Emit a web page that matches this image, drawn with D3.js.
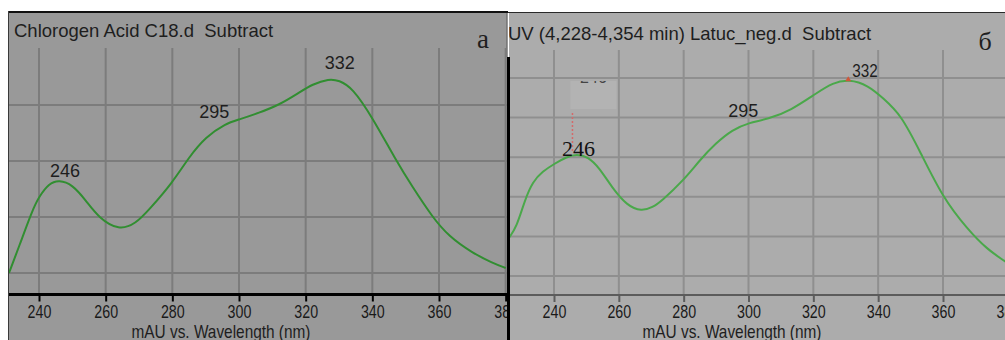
<!DOCTYPE html>
<html>
<head>
<meta charset="utf-8">
<script src="https://cdn.jsdelivr.net/npm/d3@7/dist/d3.min.js"></script>
<style>
  html, body { margin: 0; padding: 0; background: #fff; }
  svg { display: block; font-family: "Liberation Sans", Arial, sans-serif; }
</style>
</head>
<body>
<svg id="chart" width="1005" height="340"></svg>
<script>
// UV spectra: wavelength (nm) vs absorbance (mAU, arbitrary grid units)
const tickWavelengths = [240, 260, 280, 300, 320, 340, 360, 380];
const peakWavelengths = [246, 295, 332];

// Panel a – chlorogenic acid standard
const titleA = "Chlorogen Acid C18.d  Subtract";
const wavelengthsA = [231, 234, 238, 240, 243, 246, 250, 254, 258, 264, 269, 273, 280, 285, 290, 296,
                      300, 306, 312, 318, 322, 327, 330, 334, 340, 347, 352, 358, 363, 370, 376, 380];
const absorbanceA  = [0, 47, 112, 136, 160, 166, 158, 130, 98, 76, 88, 113, 161, 207, 243, 267,
                      274, 286, 300, 322, 337, 347, 344, 331, 278, 202, 154, 100, 65, 36, 18, 9];
const gridValuesA  = [0, 100, 200, 300];

// Panel б – lettuce extract, 4,228–4,354 min
const titleB = "UV (4,228-4,354 min) Latuc_neg.d  Subtract";
const wavelengthsB = [226, 228.5, 231, 233.5, 236.5, 240, 244, 247, 250.5, 254, 258, 262.5, 267, 270.5,
                      273, 280, 285, 290, 295, 300, 306, 313, 321, 326, 331, 337, 341.5, 347, 353,
                      360, 367.5, 373.5, 379.5];
const absorbanceB  = [95, 124, 192, 239, 264, 283, 301, 308, 301, 273, 222, 178, 163, 174,
                      188, 242, 293, 336, 369, 387, 396, 418, 462, 488, 497, 481, 449, 408, 313,
                      197, 119, 68, 35];
const gridValuesB  = [0, 100, 200, 300, 400, 500];

const axisTitle = "mAU vs. Wavelength (nm)";

const svg = d3.select("#chart");
const defs = svg.append("defs");
const SERIF = "'Liberation Serif', 'Times New Roman', serif";

function valueAt(xs, ys, w) {
  const i = Math.max(1, Math.min(xs.length - 1, d3.bisectLeft(xs, w)));
  const t = (w - xs[i - 1]) / (xs[i] - xs[i - 1]);
  return ys[i - 1] + t * (ys[i] - ys[i - 1]);
}

function drawPanel(cfg) {
  const g = svg.append("g");
  defs.append("clipPath").attr("id", cfg.id + "-panel")
    .append("rect").attr("x", cfg.left).attr("y", cfg.top)
    .attr("width", cfg.right - cfg.left).attr("height", 340 - cfg.top);
  defs.append("clipPath").attr("id", cfg.id + "-plot")
    .append("rect").attr("x", cfg.left).attr("y", cfg.plotTop)
    .attr("width", cfg.right - cfg.left).attr("height", cfg.axisY - cfg.plotTop);

  const x = d3.scaleLinear().domain([240, 360]).range(cfg.xRange);
  const y = d3.scaleLinear().domain(cfg.yDomain).range(cfg.yRange);

  g.append("rect").attr("x", cfg.left).attr("y", cfg.top)
    .attr("width", cfg.right - cfg.left).attr("height", 340 - cfg.top)
    .attr("fill", cfg.bg);

  const inner = g.append("g").attr("clip-path", `url(#${cfg.id}-panel)`);

  // grid
  const grid = inner.append("g").attr("stroke", cfg.gridColor).attr("stroke-width", 2);
  grid.selectAll("line.v").data(tickWavelengths).join("line")
    .attr("x1", d => x(d)).attr("x2", d => x(d))
    .attr("y1", cfg.plotTop).attr("y2", cfg.axisY);
  grid.selectAll("line.h").data(cfg.gridValues).join("line")
    .attr("x1", cfg.left).attr("x2", cfg.right)
    .attr("y1", d => y(d)).attr("y2", d => y(d));

  // title and panel letter
  inner.append("text").attr("x", cfg.titleX).attr("y", cfg.titleY)
    .attr("font-size", 18.5).attr("fill", "#1e1e1e")
    .style("white-space", "pre").text(cfg.title);
  inner.append("text").attr("x", cfg.letterX).attr("y", cfg.letterY)
    .style("font-family", SERIF).attr("fill", "#1e1e1e")
    .attr("font-size", cfg.letterSize).attr("text-anchor", "middle").text(cfg.letter);

  // x axis
  const axis = d3.axisBottom(x).tickValues(tickWavelengths).tickSize(7).tickPadding(3)
    .tickFormat(d3.format("d"));
  const ax = inner.append("g").attr("transform", `translate(0,${cfg.axisY})`).call(axis);
  ax.select(".domain").remove();
  ax.selectAll(".tick line").attr("stroke", cfg.axisColor).attr("stroke-width", 2);
  ax.selectAll(".tick text")
    .style("font-family", "'Liberation Sans', Arial, sans-serif")
    .attr("font-size", 19).attr("fill", "#1a1a1a")
    .attr("transform", "scale(0.75,1)");
  inner.append("line").attr("x1", cfg.left).attr("x2", cfg.right)
    .attr("y1", cfg.axisY).attr("y2", cfg.axisY)
    .attr("stroke", cfg.axisColor).attr("stroke-width", cfg.axisWidth);

  inner.append("text")
    .attr("transform", `translate(${cfg.axisTitleX},338) scale(0.88,1)`)
    .attr("font-size", 17.5).attr("fill", "#1e1e1e")
    .attr("text-anchor", "middle").text(axisTitle);

  // spectrum
  const line = d3.line().x((d, i) => x(cfg.wl[i])).y(d => y(d))
    .curve(d3.curveBasis);
  inner.append("g").attr("clip-path", `url(#${cfg.id}-plot)`)
    .append("path").attr("d", line(cfg.abs))
    .attr("fill", "none").attr("stroke", cfg.lineColor).attr("stroke-width", 2);

  return { g: inner, x, y };
}

// ---- panel a ----
const A = drawPanel({
  id: "pa", left: 9, right: 508, top: 12, plotTop: 48, axisY: 294.5,
  xRange: [39, 439], yDomain: [0, 300], yRange: [273, 105],
  bg: "#999999", gridColor: "#7c7c7c", axisColor: "#000", axisWidth: 3,
  lineColor: "#318e31", gridValues: gridValuesA,
  wl: wavelengthsA, abs: absorbanceA,
  title: titleA, titleX: 14, titleY: 37,
  letter: "a", letterX: 483, letterY: 48, letterSize: 27,
  axisTitleX: 221
});

// ---- panel б ----
const B = drawPanel({
  id: "pb", left: 509, right: 1005, top: 13, plotTop: 50, axisY: 295,
  xRange: [554, 943], yDomain: [0, 500], yRange: [276, 78],
  bg: "#acacac", gridColor: "#8f8f8f", axisColor: "#5c5c5c", axisWidth: 2,
  lineColor: "#4aa84a", gridValues: gridValuesB,
  wl: wavelengthsB, abs: absorbanceB,
  title: titleB, titleX: 508, titleY: 40,
  letter: "б", letterX: 985, letterY: 50, letterSize: 26,
  axisTitleX: 732
});

// frame lines
svg.append("line").attr("x1", 8).attr("x2", 508).attr("y1", 12).attr("y2", 12)
  .attr("stroke", "#111").attr("stroke-width", 2);
svg.append("line").attr("x1", 8.5).attr("x2", 8.5).attr("y1", 11).attr("y2", 340)
  .attr("stroke", "#3a3a3a").attr("stroke-width", 1);
svg.append("line").attr("x1", 508).attr("x2", 1005).attr("y1", 12.5).attr("y2", 12.5)
  .attr("stroke", "#2a2a2a").attr("stroke-width", 1.2);
svg.append("line").attr("x1", 506.5).attr("x2", 506.5).attr("y1", 13).attr("y2", 57)
  .attr("stroke", "#7a7a7a").attr("stroke-width", 1);
svg.append("line").attr("x1", 508.5).attr("x2", 508.5).attr("y1", 57).attr("y2", 340)
  .attr("stroke", "#000").attr("stroke-width", 3);

// peak labels, panel a
const offA = [[6, -3], [-8, -8], [-6, -15]];
A.g.selectAll("text.peak").data(peakWavelengths).join("text")
  .attr("class", "peak")
  .attr("x", (d, i) => A.x(d) + offA[i][0])
  .attr("y", (d, i) => A.y(valueAt(wavelengthsA, absorbanceA, d)) + offA[i][1])
  .attr("text-anchor", "middle").attr("font-size", 18).attr("fill", "#1e1e1e").text(d => d);

// panel б: hidden label box with its dashed leader, then the peak labels
const p246 = peakWavelengths[0];
const boxX = B.x(p246) - 3;
defs.append("clipPath").attr("id", "pb-box")
  .append("rect").attr("x", boxX).attr("y", 81).attr("width", 46).attr("height", 28);
B.g.append("rect").attr("x", boxX).attr("y", 81).attr("width", 46).attr("height", 28)
  .attr("fill", "#b3b3b3");
B.g.append("text").attr("clip-path", "url(#pb-box)")
  .attr("x", boxX + 23).attr("y", 82.5).attr("text-anchor", "middle")
  .attr("font-size", 16).attr("fill", "#444").text(p246);
B.g.append("line")
  .attr("x1", B.x(p246) - 1).attr("x2", B.x(p246) - 1)
  .attr("y1", 113).attr("y2", B.y(valueAt(wavelengthsB, absorbanceB, p246)) - 2)
  .attr("stroke", "#d46a6a").attr("stroke-width", 1.5).attr("stroke-dasharray", "2,2");

const pk332 = peakWavelengths[2];
const px = B.x(pk332) - 4, py = B.y(valueAt(wavelengthsB, absorbanceB, pk332));
B.g.append("path").attr("d", `M${px - 3},${py + 1}L${px + 3},${py + 1}L${px},${py - 4}Z`)
  .attr("fill", "#d0563a");

B.g.append("text").attr("x", B.x(p246) + 5)
  .attr("y", B.y(valueAt(wavelengthsB, absorbanceB, p246)) + 1)
  .attr("text-anchor", "middle").attr("font-size", 22).attr("fill", "#111")
  .style("font-family", SERIF).text(p246);
B.g.append("text").attr("x", B.x(peakWavelengths[1]) + 11)
  .attr("y", B.y(valueAt(wavelengthsB, absorbanceB, peakWavelengths[1])) - 13)
  .attr("text-anchor", "middle").attr("font-size", 18).attr("fill", "#1e1e1e")
  .text(peakWavelengths[1]);
B.g.append("text")
  .attr("transform", `translate(${B.x(pk332)},${py - 3}) scale(0.85,1)`)
  .attr("font-size", 18).attr("fill", "#1e1e1e").text(pk332);
</script>
</body>
</html>
